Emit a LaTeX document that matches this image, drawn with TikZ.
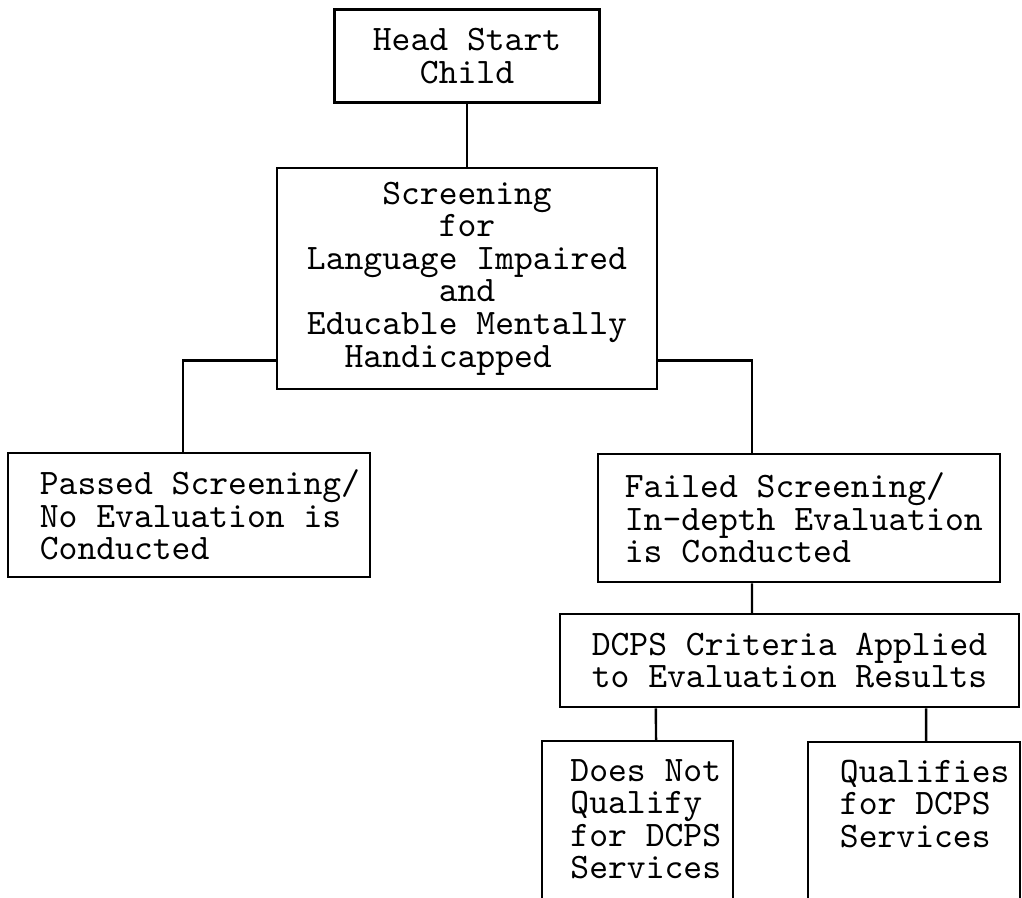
\documentclass[tikz,border=0pt]{standalone}
\usepackage{tikz}
\usetikzlibrary{positioning, calc}
\tikzstyle{box} = [rectangle,
inner sep=0pt,
draw=black, line width=0.7pt,
font=\ttfamily\fontsize{10.2}{9.25}\selectfont]
\tikzset{lbox/.style={box, align=left,
  execute at begin node={\spaceskip=0pt\leftskip=#1\relax}}} % typewriter spacing, indented text
\tikzstyle{leaf} = [anchor=north,
text height=0.4cm, % first line sits near the top
text depth=1.35cm]
\tikzstyle{line} = [draw=black, line width=0.7pt]

\begin{document}
\begin{tikzpicture}[x=0.01cm, y=-0.01cm]
            \useasboundingbox (0,0) rectangle (1022,897);
            \node (head) [box, minimum width=2.65cm, minimum height=0.93cm, align=center] at (467,56) {Head Start\\Child};
            \node (screen) [box, minimum width=3.8cm, minimum height=2.21cm, align=center] at (467,278.5)
                {Screening\\for\\Language Impaired\\and\\Educable Mentally\\Handicapped\hspace*{1.05em}};
            \node (passed) [lbox=0.26cm, minimum width=3.62cm, minimum height=1.24cm, text width=3.5cm] at (189,515)
                {Passed Screening/\\No Evaluation is\\Conducted};
            \node (failed) [lbox=0.21cm, minimum width=4.02cm, minimum height=1.28cm, text width=3.9cm] at (799,518)
                {Failed Screening/\\In-depth Evaluation\\is Conducted};
            \node (dcps) [box, minimum width=4.59cm, minimum height=0.93cm, align=center] at (789.5,660.5)
                {DCPS Criteria Applied\\to Evaluation Results};
            \node (notq) [lbox=0.2cm, leaf, minimum width=1.91cm, text width=1.74cm] at (637.5,740)
                {Does Not\\Qualify\\for DCPS\\Services};
            \node (qual) [lbox=0.26cm, leaf, minimum width=2.12cm, text width=2cm] at (914,741)
                {Qualifies\\for DCPS\\Services};

            \draw [line] (head) -- (screen);
            \draw [line] ([yshift=0.3cm]screen.south west) -| ([xshift=-0.06cm]passed.north);
            \draw [line] ([yshift=0.3cm]screen.south east) -| ([xshift=-0.47cm]failed.north);
            \draw [line] ([xshift=-0.47cm]failed.south) -- ([xshift=-0.375cm]dcps.north);
            \draw [line] ([xshift=0.185cm]notq.north) -- ([xshift=-1.335cm]dcps.south);
            \draw [line] ([xshift=0.12cm]qual.north) -- ([xshift=1.365cm]dcps.south);
        \end{tikzpicture}
\end{document}
